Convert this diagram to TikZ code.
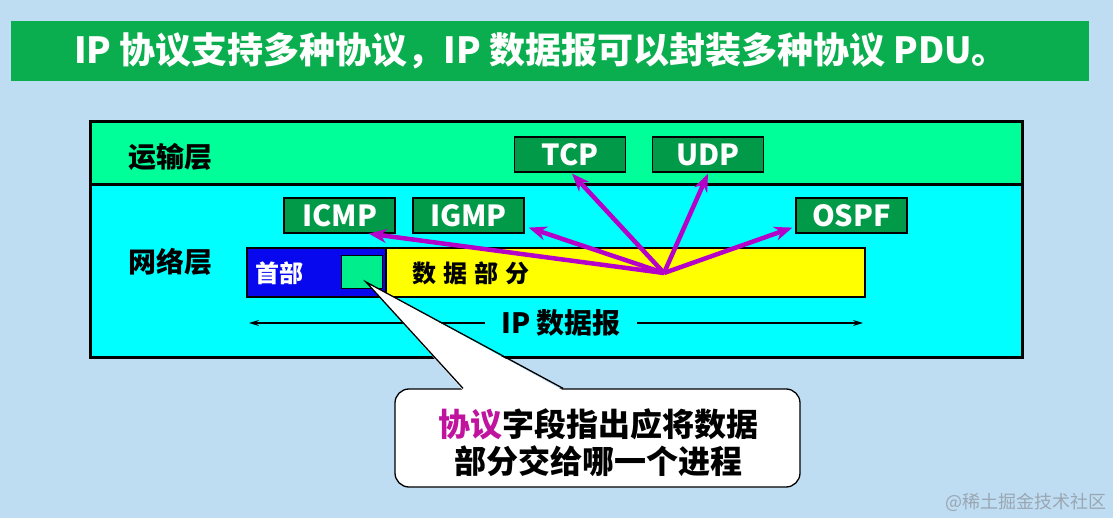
\documentclass[tikz,border=0pt]{standalone}
\usepackage{fontspec}
\setmainfont{Noto Sans CJK SC}
\usetikzlibrary{arrows.meta,calc}
\definecolor{bgblue}{HTML}{BFDDF2}
\definecolor{titlegreen}{HTML}{0BAE4F}
\definecolor{transgreen}{HTML}{00FF99}
\definecolor{netcyan}{HTML}{00FFFF}
\definecolor{protogreen}{HTML}{009A48}
\definecolor{hdrblue}{HTML}{0808EE}
\definecolor{fieldgreen}{HTML}{00EE8C}
\definecolor{datayellow}{HTML}{FFFF00}
\definecolor{arrowpurple}{HTML}{B400C8}
\definecolor{textmag}{HTML}{C0139E}
\definecolor{wmgray}{HTML}{9AA6B2}
\tikzset{
  fsz/.style={font=\fontsize{#1pt}{#1pt}\selectfont\bfseries},
  pbox/.style={draw=black, line width=1.2pt, fill=protogreen, text=white,
    minimum width=111pt, minimum height=35pt, inner sep=0pt, fsz=29},
  layerlbl/.style={text=black, inner sep=0pt, fsz=28},
  parrow/.style={draw=arrowpurple, line width=4.5pt, -{Stealth[length=18pt,width=14pt]}},
  dimarrow/.style={draw=black, line width=1.3pt, -{Stealth[length=10pt,width=6pt]}},
}
\begin{document}
\begin{tikzpicture}[x=1pt,y=-1pt]
% background
\fill[bgblue] (0,0) rectangle (1113,518);
% title
\fill[titlegreen] (10.6,20.7) rectangle (1089,80.7);
\node[text=white, fsz=36, inner sep=0pt] (title) at (541,51) {IP 协议支持多种协议，IP 数据报可以封装多种协议 PDU。};
% layers
\fill[transgreen] (90,122) rectangle (1022,185);
\fill[netcyan] (90,185) rectangle (1022,357);
\draw[line width=3pt] (90,122) rectangle (1022,357);
\draw[line width=3pt] (90,185) -- (1022,185);
\node[layerlbl] (translbl) at (170,157) {运输层};
\node[layerlbl] (netlbl) at (170,262) {网络层};
% protocol boxes
\node[pbox] (tcp) at (570,154.5) {TCP};
\node[pbox] (udp) at (708,154.5) {UDP};
\node[pbox] (icmp) at (339.5,215.5) {ICMP};
\node[pbox] (igmp) at (468.5,215.5) {IGMP};
\node[pbox] (ospf) at (851.5,215.5) {OSPF};
% datagram
\node[draw=black, line width=1.5pt, fill=hdrblue, minimum width=139pt, minimum height=49pt, inner sep=0pt] (hdr) at (316.5,272.5) {};
\node[draw=black, line width=1.5pt, fill=datayellow, minimum width=479pt, minimum height=49pt, inner sep=0pt] (data) at (625.5,272.5) {};
\node[draw=black, line width=1pt, fill=fieldgreen, minimum width=41pt, minimum height=33pt, inner sep=0pt] (field) at (361.5,272.5) {};
\node[text=white, fsz=24, inner sep=0pt] (hdrlbl) at (279,273) {首部};
\node[text=black, fsz=24, inner sep=0pt] (datalbl) at (471,273) {数\hspace{7pt}据\hspace{7pt}部\hspace{7pt}分};
% arrows
\coordinate (hub) at (664,273);
\draw[parrow] (hub) -- ([xshift=-27pt]icmp.south east);
\draw[parrow] (hub) -- ([xshift=4pt,yshift=6pt]igmp.south east);
\draw[parrow] (hub) -- ([xshift=2pt,yshift=-1pt]tcp.south);
\draw[parrow] (hub) -- ([yshift=-1pt]udp.south);
\draw[parrow] (hub) -- ([xshift=-3pt,yshift=6pt]ospf.south west);
% IP datagram dimension
\node[text=black, fsz=28, inner ysep=0pt, inner xsep=16pt] (iplbl) at (561,323) {IP 数据报};
\coordinate (ipL) at (249,323);
\coordinate (ipR) at (863,323);
\draw[dimarrow] (iplbl.west) -- (ipL);
\draw[dimarrow] (iplbl.east) -- (ipR);
% callout
\node[draw=black, line width=1.3pt, fill=white, rounded corners=14pt, minimum width=405pt, minimum height=98pt, inner sep=0pt] (callout) at (597.5,438) {};
\coordinate (ptip) at (366,282);
\fill[white] ([xshift=-134.5pt,yshift=-2pt]callout.north) -- (ptip) -- ([xshift=-34.5pt,yshift=-2pt]callout.north) -- cycle;
\draw[line width=1.3pt, line join=miter] ([xshift=-134.5pt]callout.north) -- (ptip) -- ([xshift=-34.5pt]callout.north);
\node[align=center, text=black, inner sep=0pt, font=\fontsize{32pt}{37pt}\selectfont\bfseries] (callouttxt) at (598,443) {\textcolor{textmag}{协议}字段指出应将数据\\部分交给哪一个进程};
% watermark
\node[text=wmgray, inner sep=0pt, font=\fontsize{18pt}{18pt}\selectfont] (wm) at (1026,502) {@稀土掘金技术社区};
\end{tikzpicture}
\end{document}
